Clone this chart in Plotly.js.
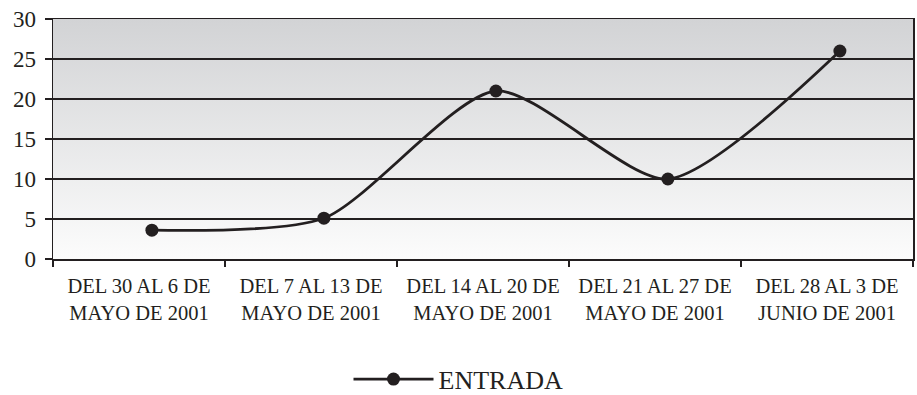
<!DOCTYPE html>
<html>
<head>
<meta charset="utf-8">
<script src="https://cdn.plot.ly/plotly-3.0.1.min.js"></script>
<style>
html,body{margin:0;padding:0;background:#fff;}
#chart{width:917px;height:395px;}
</style>
</head>
<body>
<div id="chart"></div>
<script>
var categories = [
  "DEL 30 AL 6 DE<br>MAYO DE 2001",
  "DEL 7 AL 13 DE<br>MAYO DE 2001",
  "DEL 14 AL 20 DE<br>MAYO DE 2001",
  "DEL 21 AL 27 DE<br>MAYO DE 2001",
  "DEL 28 AL 3 DE<br>JUNIO DE 2001"
];
var entrada = [3.6, 5.1, 21, 10, 26];
var seriesName = "ENTRADA";
var yTicks = [0, 5, 10, 15, 20, 25, 30];

var INK = '#231f20';
var FONT = 'serif';

var gradSvg = '<svg xmlns="http://www.w3.org/2000/svg" width="100" height="100" preserveAspectRatio="none">' +
  '<defs><linearGradient id="g" x1="0" y1="0" x2="0" y2="1">' +
  '<stop offset="0" stop-color="#d2d3d5"/><stop offset="1" stop-color="#fcfcfc"/>' +
  '</linearGradient></defs><rect width="100" height="100" fill="url(#g)"/></svg>';
var gradUri = 'data:image/svg+xml;base64,' + btoa(gradSvg);

var axisHolder = {
  x: categories, y: entrada, type: 'scatter', mode: 'markers',
  marker: {opacity: 0}, showlegend: false, hoverinfo: 'skip'
};

var trace = {
  x: categories,
  y: entrada,
  name: seriesName,
  type: 'scatter',
  mode: 'lines+markers',
  xaxis: 'x2',
  line: {color: INK, width: 2.8, shape: 'spline', smoothing: 0.7},
  marker: {color: INK, size: 13}
};

var layout = {
  width: 917, height: 395,
  margin: {l: 53, r: 4, t: 19, b: 136, autoexpand: false},
  paper_bgcolor: '#ffffff',
  plot_bgcolor: 'rgba(0,0,0,0)',
  font: {family: FONT, color: INK},
  showlegend: true,
  legend: {
    orientation: 'h', xref: 'container', x: 0.5, xanchor: 'center',
    yref: 'container', y: 0.04, yanchor: 'middle',
    itemwidth: 80,
    font: {size: 26, family: FONT, color: INK}
  },
  images: [{
    source: gradUri, xref: 'paper', yref: 'paper', x: 0, y: 1,
    sizex: 1, sizey: 1, xanchor: 'left', yanchor: 'top',
    sizing: 'stretch', layer: 'below'
  }],
  xaxis: {
    type: 'category',
    categoryarray: categories,
    range: [-0.5, 4.5],
    tickson: 'boundaries',
    ticks: 'outside', ticklen: 6, tickwidth: 1.5, tickcolor: INK,
    showline: true, linecolor: INK, linewidth: 1.5, mirror: true,
    showgrid: false, zeroline: false, automargin: false,
    tickfont: {size: 20.5, family: FONT, color: INK},
    ticklabelstandoff: 8,
    tickangle: 0, fixedrange: true
  },
  xaxis2: {
    type: 'category',
    categoryarray: categories,
    overlaying: 'x',
    range: [-0.575, 4.425],
    visible: false, fixedrange: true
  },
  yaxis: {
    range: [0, 30],
    tickvals: yTicks,
    ticks: 'outside', ticklen: 7, tickwidth: 1.5, tickcolor: INK,
    showline: true, linecolor: INK, linewidth: 1.5, mirror: true,
    showgrid: true, gridcolor: INK, gridwidth: 1.5,
    zeroline: false, automargin: false,
    tickfont: {size: 23, family: FONT, color: INK},
    ticklabelstandoff: 4,
    fixedrange: true
  }
};

Plotly.newPlot('chart', [axisHolder, trace], layout, {displayModeBar: false, staticPlot: true});
</script>
</body>
</html>
